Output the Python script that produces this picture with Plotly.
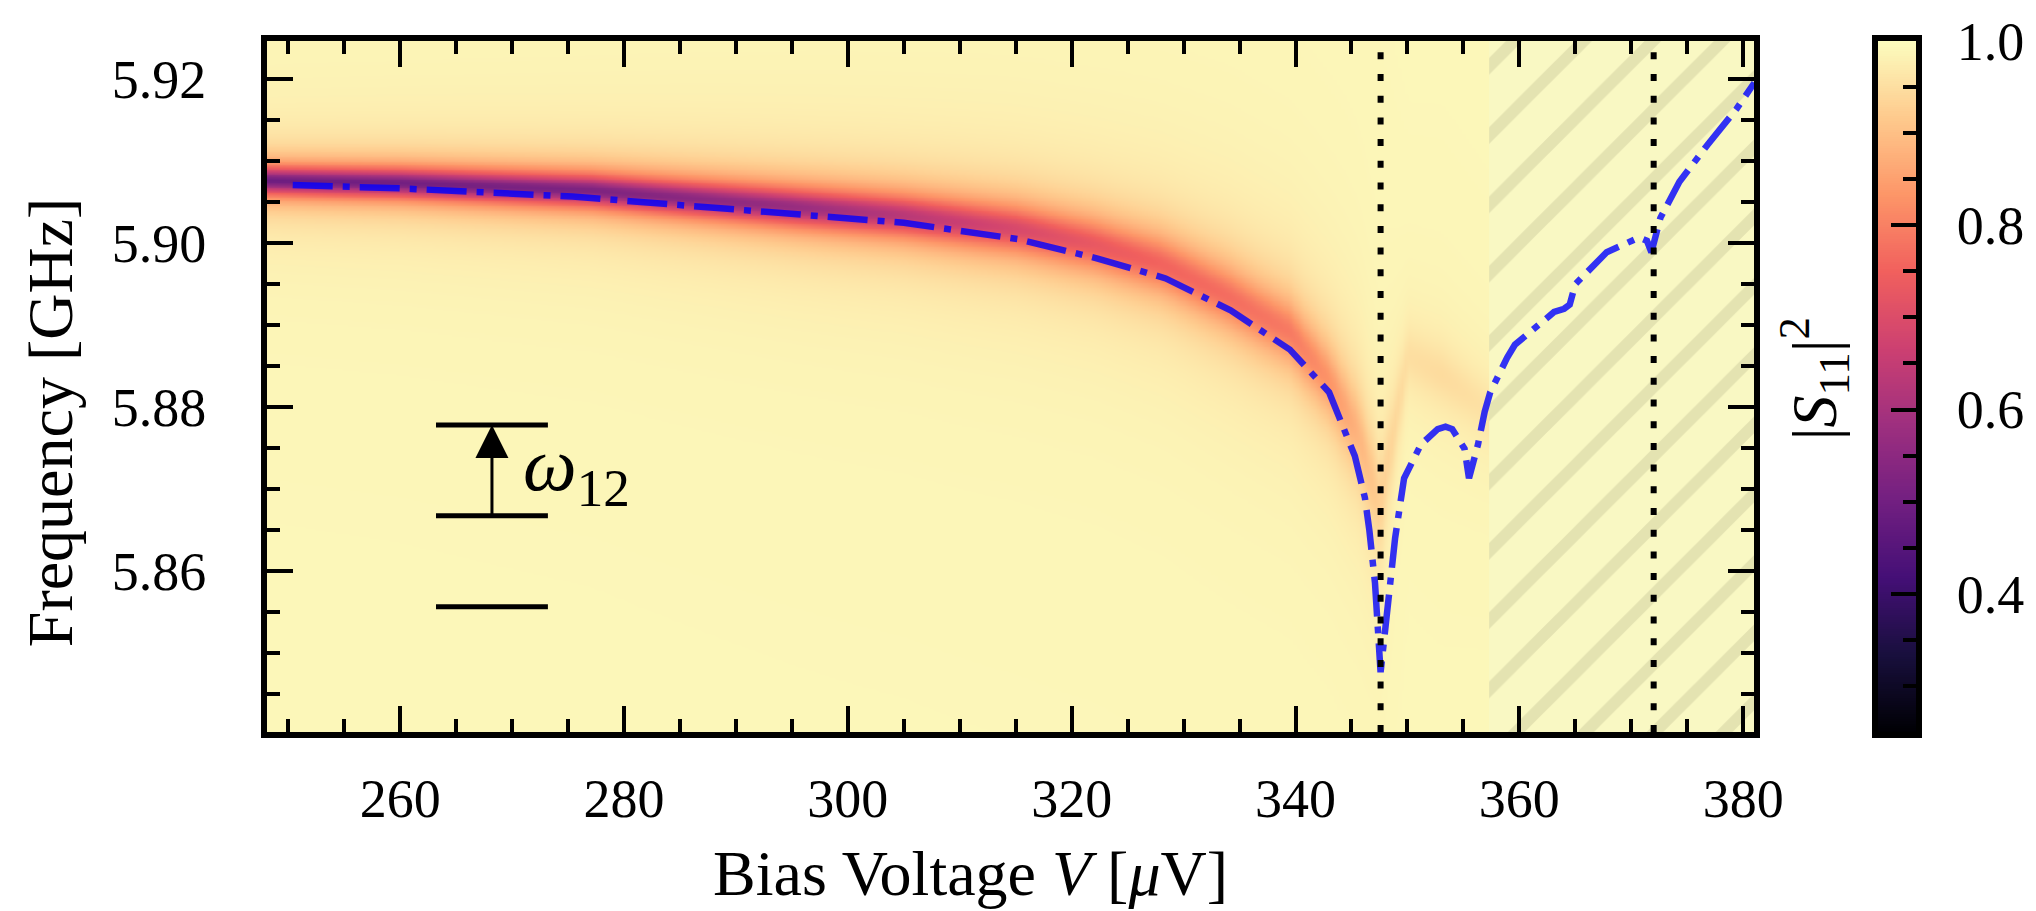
import numpy as np
import plotly.graph_objects as go

# ---------------- data ----------------
# fitted resonance (blue dash-dot curve)
fit_v = [250.4, 260.0, 275.4, 294.7, 305.0, 315.2, 322.4, 328.4, 334.2, 339.5, 343.0,
         345.3, 346.2, 346.6, 347.1, 347.6, 348.2, 348.9, 349.7, 351.2, 352.7, 353.4,
         354.0, 355.1, 355.5, 356.3, 356.9, 357.4, 358.9, 359.6, 363.1, 364.0, 364.5,
         365.0, 367.8, 370.7, 371.4, 371.8, 372.6, 374.3, 376.8, 379.4, 381.0]
fit_f = [5.9071, 5.9067, 5.9057, 5.9037, 5.9025, 5.9005, 5.8981, 5.8957, 5.8918, 5.8870, 5.8818,
         5.8740, 5.8689, 5.8649, 5.8585, 5.8476, 5.8556, 5.8640, 5.8713, 5.8754, 5.8773, 5.8776,
         5.8773, 5.8749, 5.8713, 5.8754, 5.8794, 5.8818, 5.8860, 5.8876, 5.8916, 5.8920, 5.8925,
         5.8950, 5.8989, 5.9007, 5.9003, 5.8989, 5.9031, 5.9075, 5.9120, 5.9164, 5.9196]

# measured |S11|^2 map, described by the dip seen in the picture
band_v     = [247.8, 260.0, 277.0, 295.0, 305.0, 315.0, 322.0, 328.0, 334.0, 339.5, 343.0, 345.5, 347.5, 350.0, 353.0, 357.3]
band_f     = [5.9077, 5.9074, 5.9065, 5.9045, 5.9034, 5.9018, 5.8999, 5.8975, 5.8935, 5.8892, 5.8832, 5.8770, 5.8680, 5.8862, 5.8840, 5.8795]
band_depth = [0.49, 0.50, 0.52, 0.57, 0.63, 0.69, 0.73, 0.755, 0.77, 0.79, 0.83, 0.88, 0.925, 0.95, 0.945, 0.955]
band_width = [0.0015, 0.0016, 0.0018, 0.0022, 0.0025, 0.0029, 0.0032, 0.0035, 0.0038, 0.0040, 0.0045, 0.0055, 0.0065, 0.0040, 0.0040, 0.0040]
background_level = 0.99

v_limits = [248.1, 381.0]
f_limits = [5.8403, 5.9247]
cbar_limits = [0.25, 1.0]

dotted_v = [347.6, 372.0]          # vertical dotted markers
hatch_v = [357.3, 381.0]           # hatched (excluded) region

level_f = [5.8556, 5.8667, 5.8778]  # energy level sketch
level_v = [263.2, 273.2]
arrow_v = 268.2
omega_label = "<i>ω</i><sub>12</sub>"

x_title = "Bias Voltage <i>V</i> [<i>μ</i>V]"
y_title = "Frequency [GHz]"
c_title = "|<i>S</i><sub>11</sub>|<sup>2</sup>"

# ---------------- build map ----------------
V = np.arange(v_limits[0], v_limits[1] + 0.3, 0.3)
F = np.arange(f_limits[0], f_limits[1] + 0.0002, 0.0002)
fc = np.interp(V, band_v, band_f)
dp = np.interp(V, band_v, band_depth)
wd = np.interp(V, band_v, band_width)
Z = background_level - (background_level - dp[None, :]) / (1.0 + ((F[:, None] - fc[None, :]) / wd[None, :]) ** 2)
Z = np.round(Z, 4)

# ---------------- layout geometry (px) ----------------
W, H = 2036, 911
L, R, T, B = 267, 116, 35, 179
pw = W - L - R
ph = H - T - B
def px(x):
    return (x - L) / pw
def py(y):
    return (H - B - y) / ph

FONT = "Liberation Serif"
fig = go.Figure()

fig.add_trace(go.Heatmap(x=V, y=F, z=Z, colorscale="Magma", zmin=cbar_limits[0], zmax=cbar_limits[1],
                         showscale=False, zsmooth="best", hoverinfo="skip"))

fig.add_trace(go.Scatter(x=[hatch_v[0], hatch_v[1], hatch_v[1], hatch_v[0], hatch_v[0]],
                         y=[f_limits[0], f_limits[0], f_limits[1], f_limits[1], f_limits[0]],
                         mode="lines", line=dict(width=0), fill="toself", fillcolor="#f9f8c3",
                         fillpattern=dict(shape="/", fgcolor="#cfce9f", bgcolor="#f9f8c3", size=49, solidity=0.24),
                         hoverinfo="skip", showlegend=False))

fig.add_trace(go.Scatter(x=fit_v, y=fit_f, mode="lines",
                         line=dict(color="rgba(0,0,255,0.8)", width=6.5, dash="40px,10px,7px,10px"),
                         hoverinfo="skip", showlegend=False))

# colour bar as its own axes
cb_vals = np.linspace(cbar_limits[0], cbar_limits[1], 300)
fig.add_trace(go.Heatmap(x=[0, 1], y=cb_vals, z=np.column_stack([cb_vals, cb_vals]),
                         colorscale="Magma", zmin=cbar_limits[0], zmax=cbar_limits[1],
                         showscale=False, xaxis="x2", yaxis="y2", hoverinfo="skip"))

for v in dotted_v:
    fig.add_shape(type="line", x0=v, x1=v, y0=0, y1=1, xref="x", yref="y domain",
                  line=dict(color="black", width=6, dash="7px,14.7px"), layer="above")

for f in level_f:
    fig.add_shape(type="line", x0=level_v[0], x1=level_v[1], y0=f, y1=f, xref="x", yref="y",
                  line=dict(color="black", width=5), layer="above")

fig.add_annotation(x=arrow_v, y=level_f[2], ax=arrow_v, ay=level_f[1], xref="x", yref="y",
                   axref="x", ayref="y", text="", showarrow=True, arrowhead=2, arrowsize=2.2,
                   arrowwidth=3, arrowcolor="black", standoff=0, startstandoff=0)
fig.add_annotation(x=level_v[1] - 2.4, y=(level_f[1] + level_f[2]) / 2, xref="x", yref="y",
                   text=omega_label, showarrow=False, xanchor="left", yanchor="middle",
                   font=dict(family=FONT, size=76, color="black"))

fig.add_annotation(x=px(972), y=py(875), xref="paper", yref="paper", text=x_title, showarrow=False,
                   font=dict(family=FONT, size=64, color="black"), xanchor="center", yanchor="middle")
fig.add_annotation(x=px(50), y=py(420), xref="paper", yref="paper", text=y_title, showarrow=False,
                   textangle=-90, font=dict(family=FONT, size=64, color="black"),
                   xanchor="center", yanchor="middle")
fig.add_annotation(x=px(1818), y=py(376), xref="paper", yref="paper", text=c_title, showarrow=False,
                   textangle=-90, font=dict(family=FONT, size=64, color="black"),
                   xanchor="center", yanchor="middle")

axis_common = dict(showline=True, linewidth=6, linecolor="black", showgrid=False, zeroline=False,
                   ticks="inside", tickcolor="black", tickfont=dict(family=FONT, size=54, color="black"))

fig.update_layout(
    width=W, height=H, margin=dict(l=L, r=R, t=T, b=B),
    paper_bgcolor="white", plot_bgcolor="white", showlegend=False,
    xaxis=dict(domain=[0, px(1758)], range=v_limits, tick0=0, dtick=20, ticklen=26, tickwidth=4,
               mirror="ticks", ticklabelstandoff=14,
               minor=dict(dtick=5, ticks="inside", ticklen=13, tickwidth=3.5, tickcolor="black"),
               **axis_common),
    yaxis=dict(range=f_limits, tick0=5.84, dtick=0.02, tickformat=".2f", ticklen=26, tickwidth=4,
               mirror="ticks", ticklabelstandoff=44,
               minor=dict(dtick=0.005, ticks="inside", ticklen=13, tickwidth=3.5, tickcolor="black"),
               **axis_common),
    xaxis2=dict(domain=[px(1882), 1], range=[0, 1], showline=True, linewidth=6, linecolor="black",
                mirror=True, showticklabels=False, ticks="", showgrid=False, zeroline=False, anchor="y2"),
    yaxis2=dict(domain=[0, 1], range=cbar_limits, anchor="x2", side="right", tick0=0, dtick=0.2,
                tickformat=".1f", ticklen=25, tickwidth=4, mirror=True, ticklabelstandoff=24,
                minor=dict(dtick=0.05, ticks="inside", ticklen=13, tickwidth=3.5, tickcolor="black"),
                **axis_common),
)

fig.write_html("out.html")
